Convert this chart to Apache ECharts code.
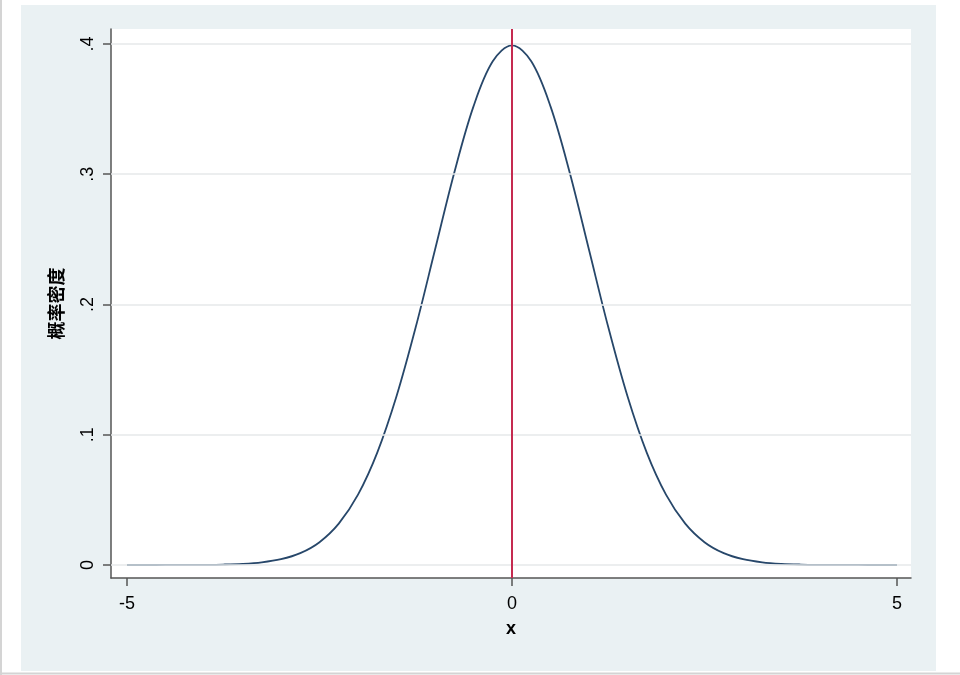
<!DOCTYPE html>
<html><head><meta charset="utf-8">
<script src="https://cdn.jsdelivr.net/npm/echarts@6/dist/echarts.min.js"></script>
<style>html,body{margin:0;padding:0;background:#fff}#c{width:960px;height:675px}</style>
</head><body><div id="c"></div>
<script>
const xValues = [-5,-4.75,-4.5,-4.25,-4,-3.75,-3.5,-3.25,-3,-2.75,-2.5,-2.25,-2,-1.75,-1.5,-1.25,-1,-0.75,-0.5,-0.25,0,0.25,0.5,0.75,1,1.25,1.5,1.75,2,2.25,2.5,2.75,3,3.25,3.5,3.75,4,4.25,4.5,4.75,5];
const densityValues = [0.0000015,0.00001,0.00002,0.00005,0.00013,0.00035,0.00087,0.00203,0.00443,0.00909,0.01753,0.03174,0.05399,0.08628,0.12952,0.18265,0.24197,0.30114,0.35207,0.38667,0.39894,0.38667,0.35207,0.30114,0.24197,0.18265,0.12952,0.08628,0.05399,0.03174,0.01753,0.00909,0.00443,0.00203,0.00087,0.00035,0.00013,0.00005,0.00002,0.00001,0.0000015];
const yTicks = [0, 0.1, 0.2, 0.3, 0.4];
const yTickLabels = ['0', '.1', '.2', '.3', '.4'];
const xTicks = [-5, 0, 5];
const xTickLabels = ['-5', '0', '5'];
const refLineX = 0;

const chart = echarts.init(document.getElementById('c'), null, {renderer: 'canvas'});
const font = '"Liberation Sans", Arial, sans-serif';
chart.setOption({
  backgroundColor: '#ffffff',
  animation: false,
  graphic: [
    {type: 'rect', z: -10, shape: {x: 21, y: 5, width: 915, height: 666}, style: {fill: '#eaf1f3'}},
    {type: 'line', z: -10, shape: {x1: 1, y1: 0, x2: 1, y2: 675}, style: {stroke: '#d4d4d4', lineWidth: 2}},
    {type: 'line', z: -10, shape: {x1: 0, y1: 673.5, x2: 960, y2: 673.5}, style: {stroke: '#d4d4d4', lineWidth: 2}}
  ],
  grid: {left: 111, top: 29, width: 800, height: 549, show: true, backgroundColor: '#ffffff', borderWidth: 0},
  xAxis: {
    type: 'value', min: -5.208, max: 5.182,
    name: 'x', nameLocation: 'middle', nameGap: 42,
    nameTextStyle: {fontSize: 18, color: '#000', fontFamily: font, fontWeight: 'bold'},
    axisLine: {show: true, onZero: false, lineStyle: {color: '#555', width: 1.5}},
    axisTick: {show: true, length: 8, customValues: xTicks, lineStyle: {color: '#555', width: 1.5}},
    axisLabel: {customValues: xTicks, fontSize: 18, color: '#000', fontFamily: font, margin: 17,
      formatter: v => xTickLabels[xTicks.indexOf(v)] ?? ''},
    splitLine: {show: false}
  },
  yAxis: {
    type: 'value', min: -0.00998, max: 0.4115,
    name: '概率密度', nameLocation: 'middle', nameGap: 46,
    nameTextStyle: {fontSize: 18, color: '#000', fontFamily: '"Noto Sans CJK SC", sans-serif', fontWeight: 'bold'},
    axisLine: {show: true, onZero: false, lineStyle: {color: '#555', width: 1.5}},
    axisTick: {show: true, length: 8, customValues: yTicks, lineStyle: {color: '#555', width: 1.5}},
    axisLabel: {customValues: yTicks, rotate: 90, fontSize: 18, color: '#000', fontFamily: font, margin: 14,
      formatter: v => { const i = yTicks.findIndex(t => Math.abs(t - v) < 1e-9); return i >= 0 ? yTickLabels[i] : ''; }},
    splitLine: {show: false}
  },
  series: [
    {
      type: 'line', data: xValues.map((x, i) => [x, densityValues[i]]),
      smooth: 0.35, showSymbol: false, symbol: 'none',
      lineStyle: {color: '#27476a', width: 1.8}, z: 3,
      markLine: {
        silent: true, symbol: 'none', label: {show: false},
        lineStyle: {color: '#e6e8ea', width: 1.5, type: 'solid'},
        data: yTicks.map(v => ({yAxis: v}))
      }
    },
    {
      type: 'line', data: [], z: 4,
      markLine: {
        silent: true, symbol: 'none', label: {show: false},
        lineStyle: {color: '#c52a50', width: 2, type: 'solid'},
        data: [{xAxis: refLineX}]
      }
    }
  ]
});
</script></body></html>
